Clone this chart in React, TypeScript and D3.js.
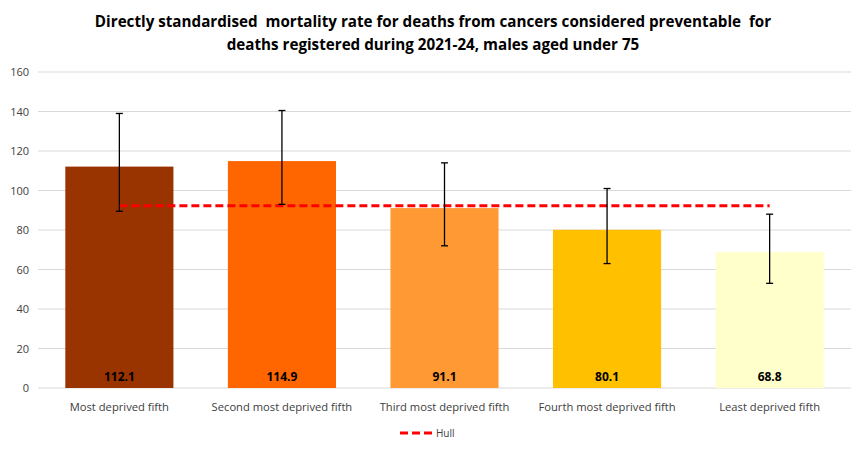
import * as d3 from "d3"

const categories = [
  "Most deprived fifth",
  "Second most deprived fifth",
  "Third most deprived fifth",
  "Fourth most deprived fifth",
  "Least deprived fifth",
]
const rates = [112.1, 114.9, 91.1, 80.1, 68.8]
const lowerCI = [89.5, 93, 72, 63, 53]
const upperCI = [139, 140.5, 114, 101, 88]
const hull = [92.3, 92.3, 92.3, 92.3, 92.3]
const barColors = ["#993300", "#FF6600", "#FF9933", "#FFC000", "#FFFFCC"]
const yTicks = [0, 20, 40, 60, 80, 100, 120, 140, 160]

const W = 866
const H = 452
const font = "'Open Sans', 'Liberation Sans', Arial, sans-serif"

export default function App() {
  const margin = { top: 72, right: 15, bottom: 64, left: 38 }

  const x = d3.scaleBand()
    .domain(categories)
    .range([margin.left, W - margin.right])
    .paddingInner(0.335)
    .paddingOuter(0.168)

  const y = d3.scaleLinear()
    .domain([0, 160])
    .range([H - margin.bottom, margin.top])

  const cx = (i: number) => (x(categories[i]) || 0) + x.bandwidth() / 2

  const hullLine = d3.line<number>()
    .x((_, i) => cx(i))
    .y((d) => y(d))

  return (
    <svg width={W} height={H} style={{ position: "absolute", left: 0, top: 0, background: "#fff" }} fontFamily={font}>
      {/* title */}
      <text x={433} y={27} textAnchor="middle" fontSize={15.2} fontWeight="bold" fill="#000" style={{ whiteSpace: "pre" }}>
        Directly standardised  mortality rate for deaths from cancers considered preventable  for
      </text>
      <text x={433} y={50} textAnchor="middle" fontSize={15.2} fontWeight="bold" fill="#000">
        deaths registered during 2021-24, males aged under 75
      </text>

      {/* gridlines + y labels */}
      {yTicks.map((t) => (
        <g key={t}>
          <line x1={margin.left} x2={W - margin.right} y1={y(t)} y2={y(t)} stroke="#d9d9d9" strokeWidth={1} />
          <text x={29} y={y(t) + 4} textAnchor="end" fontSize={11} fill="#404040">{t}</text>
        </g>
      ))}

      {/* bars */}
      {rates.map((v, i) => (
        <rect
          key={categories[i]}
          x={x(categories[i])}
          y={y(v)}
          width={x.bandwidth()}
          height={y(0) - y(v)}
          fill={barColors[i]}
        />
      ))}

      {/* hull line */}
      <path d={hullLine(hull) || ""} fill="none" stroke="#FF0000" strokeWidth={3} strokeDasharray="8,4" />

      {/* error bars */}
      {rates.map((_, i) => (
        <g key={"e" + i} stroke="#000" strokeWidth={1.3}>
          <line x1={cx(i)} x2={cx(i)} y1={y(lowerCI[i])} y2={y(upperCI[i])} />
          <line x1={cx(i) - 3.5} x2={cx(i) + 3.5} y1={y(upperCI[i])} y2={y(upperCI[i])} />
          <line x1={cx(i) - 3.5} x2={cx(i) + 3.5} y1={y(lowerCI[i])} y2={y(lowerCI[i])} />
        </g>
      ))}

      {/* value labels */}
      {rates.map((v, i) => (
        <text key={"v" + i} x={cx(i)} y={y(0) - 7} textAnchor="middle" fontSize={12} fontWeight="bold" fill="#000">
          {v.toFixed(1)}
        </text>
      ))}

      {/* category labels */}
      {categories.map((c, i) => (
        <text key={c} x={cx(i)} y={y(0) + 23} textAnchor="middle" fontSize={11.2} fill="#404040">{c}</text>
      ))}

      {/* legend */}
      <line x1={400} x2={432} y1={433} y2={433} stroke="#FF0000" strokeWidth={3} strokeDasharray="8,4" />
      <text x={436} y={437} fontSize={10} fill="#404040">Hull</text>
    </svg>
  )
}
